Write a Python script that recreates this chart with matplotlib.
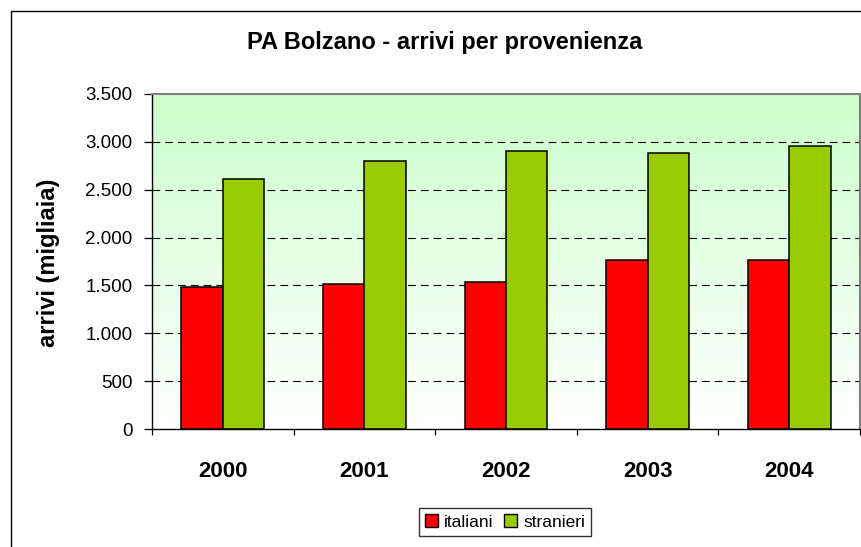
import numpy as np
import matplotlib
matplotlib.use("Agg")
import matplotlib.pyplot as plt
from matplotlib.ticker import FuncFormatter, FixedLocator
from matplotlib.patches import Rectangle, Patch
from matplotlib.colors import LinearSegmentedColormap

# Arrivals (thousands) by origin, Provincia Autonoma di Bolzano
anni = ["2000", "2001", "2002", "2003", "2004"]
italiani = [1480, 1520, 1540, 1765, 1765]
stranieri = [2610, 2800, 2900, 2880, 2955]

plt.rcParams["font.family"] = ["Liberation Sans", "DejaVu Sans"]

W, H, DPI = 861, 547, 100
fig = plt.figure(figsize=(W / DPI, H / DPI), dpi=DPI)
fig.patch.set_facecolor("white")

# outer chart frame (only left and top edges fall inside the image)
fig.patches.append(Rectangle((11 / W, -0.05), 1.2, 1 - 11 / H + 0.05,
                             transform=fig.transFigure, fill=False,
                             edgecolor="black", linewidth=1.0))

left, right, top, bottom = 152, 860, 94, 429
ax = fig.add_axes([left / W, 1 - bottom / H, (right - left) / W, (bottom - top) / H])

# background gradient: light green at the top fading to white
cmap = LinearSegmentedColormap.from_list("bg", ["#ffffff", "#ccffcc"])
grad = np.linspace(0, 1, 256).reshape(-1, 1)
ax.imshow(grad, cmap=cmap, aspect="auto", origin="lower",
          extent=[0, 1, 0, 1], transform=ax.transAxes, zorder=0)

x = np.arange(len(anni))
w = 0.293
ax.bar(x - w / 2, italiani, w, color="#ff0000", edgecolor="black",
       linewidth=1.1, zorder=3, label="italiani")
ax.bar(x + w / 2, stranieri, w, color="#99cc00", edgecolor="black",
       linewidth=1.1, zorder=3, label="stranieri")

ax.set_xlim(-0.5, len(anni) - 0.5)
ax.set_ylim(0, 3500)
ax.set_yticks(np.arange(0, 3501, 500))
ax.yaxis.set_major_formatter(FuncFormatter(lambda v, p: f"{int(v):,}".replace(",", ".")))

for yv in np.arange(500, 3001, 500):
    ax.axhline(yv, color="black", linewidth=0.8, linestyle=(0, (7, 4.5)), zorder=2)

ax.set_xticks(x)
ax.set_xticklabels(anni, fontsize=16, fontweight="bold")
ax.xaxis.set_minor_locator(FixedLocator(np.arange(-0.5, len(anni), 1.0)))
ax.tick_params(axis="x", which="major", length=0, pad=23)
ax.tick_params(axis="x", which="minor", length=4, width=0.9, direction="out", color="black")
ax.tick_params(axis="y", length=6, width=0.9, direction="out", color="black",
               labelsize=13.5, pad=8)

for s in ("left", "bottom"):
    ax.spines[s].set_color("black")
    ax.spines[s].set_linewidth(1.0)
for s in ("top", "right"):
    ax.spines[s].set_color("#808080")
    ax.spines[s].set_linewidth(1.5)

fig.text(445 / W, 1 - 43 / H, "PA Bolzano - arrivi per provenienza",
         ha="center", va="center", fontsize=17, fontweight="bold")
fig.text(49 / W, 1 - 263 / H, "arrivi (migliaia)", rotation=90,
         ha="center", va="center", fontsize=17, fontweight="bold")

handles = [Patch(facecolor="#ff0000", edgecolor="black", linewidth=1.0, label="italiani"),
           Patch(facecolor="#99cc00", edgecolor="black", linewidth=1.0, label="stranieri")]
leg = fig.legend(handles=handles, loc="center", bbox_to_anchor=(505 / W, 1 - 522 / H),
                 ncol=2, fontsize=12.5, frameon=True, fancybox=False, shadow=False,
                 handlelength=0.75, handleheight=0.75, handletextpad=0.35,
                 columnspacing=0.6, borderpad=0.35, borderaxespad=0)
leg.get_frame().set_edgecolor("black")
leg.get_frame().set_linewidth(1.0)

fig.savefig("out.png", dpi=DPI)
